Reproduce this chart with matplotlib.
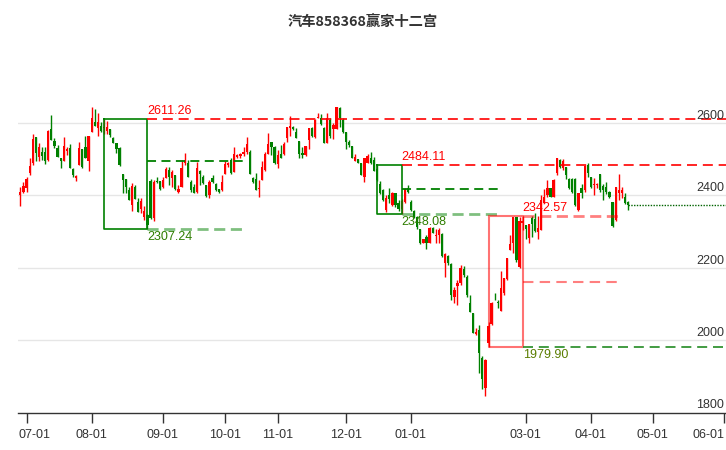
import matplotlib
matplotlib.use("Agg")
import matplotlib.pyplot as plt
import matplotlib.transforms as mtransforms
import pandas as pd

plt.rcParams['font.family'] = ['Liberation Sans', 'Noto Sans CJK SC', 'DejaVu Sans']

title = "汽车858368赢家十二宫"

# ---- OHLC data ----
opens = [2400, 2411, 2420, 2461, 2489, 2561, 2507, 2521, 2521, 2498,
         2583, 2552, 2530, 2503, 2494, 2524, 2530, 2473, 2449, 2484,
         2528, 2533, 2494, 2576, 2604, 2586, 2592, 2586, 2579, 2583,
         2558, 2544, 2530, 2459, 2446, 2415, 2374, 2423, 2383, 2362,
         2340, 2345, 2440, 2338, 2441, 2440, 2424, 2447, 2470, 2447,
         2457, 2411, 2424, 2491, 2491, 2438, 2424, 2411, 2468, 2452,
         2429, 2401, 2447, 2432, 2417, 2415, 2459, 2484, 2498, 2466,
         2507, 2509, 2516, 2521, 2519, 2447, 2445, 2417, 2443, 2470,
         2515, 2547, 2535, 2487, 2515, 2515, 2558, 2586, 2590, 2576,
         2551, 2518, 2512, 2553, 2586, 2561, 2613, 2613, 2586, 2546,
         2610, 2583, 2583, 2641, 2610, 2576, 2549, 2537, 2496, 2500,
         2489, 2450, 2489, 2505, 2498, 2472, 2432, 2415, 2360, 2401,
         2374, 2406, 2380, 2364, 2383, 2422, 2383, 2358, 2340, 2306,
         2270, 2286, 2268, 2309, 2287, 2291, 2294, 2214, 2233, 2211,
         2118, 2150, 2157, 2196, 2175, 2102, 2074, 2017, 2028, 1950,
         1867, 1992, 2046, 2120, 2106, 2081, 2131, 2168, 2249, 2268,
         2341, 2203, 2325, 2318, 2282, 2337, 2334, 2300, 2304, 2380,
         2401, 2420, 2397, 2461, 2498, 2475, 2478, 2445, 2445, 2445,
         2360, 2420, 2415, 2484, 2450, 2428, 2428, 2459, 2426, 2424,
         2410, 2383, 2332, 2408, 2406, 2397, 2383]
highs = [2423, 2438, 2450, 2503, 2569, 2561, 2544, 2535, 2535, 2581,
         2622, 2558, 2540, 2503, 2561, 2535, 2542, 2475, 2457, 2549,
         2528, 2564, 2564, 2644, 2638, 2629, 2604, 2611.26, 2605, 2583,
         2562, 2546, 2533, 2459, 2446, 2424, 2434, 2429, 2392, 2392,
         2370, 2348, 2445, 2442, 2452, 2441, 2452, 2480, 2480, 2470,
         2457, 2429, 2498, 2518, 2498, 2443, 2431, 2493, 2470, 2456,
         2429, 2443, 2456, 2434, 2418, 2456, 2494, 2492, 2503, 2533,
         2515, 2518, 2533, 2561, 2525, 2452, 2462, 2443, 2494, 2521,
         2572, 2549, 2537, 2526, 2540, 2549, 2590, 2620, 2592, 2586,
         2551, 2535, 2537, 2586, 2590, 2611, 2629, 2625, 2590, 2627,
         2613, 2600, 2646, 2644, 2613, 2576, 2553, 2537, 2514, 2500,
         2489, 2503, 2516, 2521, 2507, 2484.11, 2440, 2418, 2401, 2420,
         2410, 2408, 2387, 2390, 2420, 2429, 2388, 2360, 2342, 2306,
         2281, 2290, 2314, 2314, 2306, 2309, 2296, 2242, 2235, 2213,
         2148, 2166, 2208, 2205, 2180, 2125, 2076, 2033, 2042, 1955,
         1947, 2050, 2106, 2130, 2110, 2190, 2171, 2226, 2290, 2341,
         2341, 2340, 2342.57, 2318, 2321, 2343, 2352, 2343, 2401, 2417,
         2443, 2420, 2445, 2503, 2500, 2500, 2480, 2447, 2447, 2447,
         2408, 2433, 2484, 2490, 2452, 2447, 2434, 2460, 2433, 2438,
         2412, 2383, 2424, 2459, 2424, 2406, 2385]
lows = [2371, 2408, 2411, 2458, 2484, 2494, 2494, 2498, 2486, 2494,
        2553, 2530, 2507, 2477, 2494, 2512, 2477, 2452, 2440, 2484,
        2475, 2503, 2469, 2576, 2592, 2565, 2576, 2570, 2570, 2563,
        2544, 2518, 2482, 2406, 2408, 2388, 2358, 2389, 2355, 2351,
        2332, 2307.24, 2335, 2330, 2434, 2415, 2420, 2447, 2429, 2424,
        2415, 2406, 2424, 2484, 2452, 2410, 2406, 2408, 2429, 2432,
        2395, 2392, 2435, 2413, 2406, 2413, 2459, 2480, 2459, 2466,
        2503, 2505, 2509, 2516, 2459, 2435, 2415, 2397, 2443, 2468,
        2515, 2512, 2487, 2475, 2503, 2512, 2549, 2565, 2580, 2558,
        2503, 2505, 2509, 2528, 2563, 2558, 2613, 2595, 2546, 2546,
        2560, 2555, 2583, 2590, 2574, 2528, 2535, 2503, 2496, 2489,
        2457, 2436, 2489, 2487, 2469, 2440, 2404, 2385, 2353, 2378,
        2370, 2367, 2358, 2348.08, 2380, 2406, 2358, 2337, 2306, 2266,
        2268, 2251, 2268, 2295, 2268, 2268, 2231, 2176, 2208, 2111,
        2104, 2097, 2152, 2175, 2118, 2079, 2019, 2014, 1910, 1864,
        1845, 1979.90, 2042, 2110, 2090, 2081, 2125, 2166, 2249, 2240,
        2217, 2200, 2305, 2281, 2268, 2286, 2300, 2281, 2304, 2378,
        2397, 2397, 2397, 2458, 2476, 2470, 2445, 2418, 2408, 2372,
        2358, 2392, 2411, 2452, 2420, 2401, 2420, 2410, 2388, 2404,
        2392, 2313, 2330, 2387, 2392, 2376, 2360]
closes = [2411, 2427, 2445, 2482, 2555, 2517, 2535, 2509, 2494, 2579,
          2553, 2537, 2507, 2495, 2537, 2528, 2477, 2457, 2453, 2530,
          2480, 2503, 2564, 2613, 2592, 2604, 2579, 2588, 2590, 2567,
          2546, 2528, 2484, 2443, 2423, 2388, 2426, 2389, 2355, 2385,
          2356, 2318, 2338, 2437, 2438, 2417, 2443, 2472, 2452, 2466,
          2417, 2418, 2475, 2498, 2452, 2415, 2408, 2477, 2459, 2434,
          2399, 2438, 2438, 2415, 2410, 2438, 2487, 2489, 2461, 2515,
          2512, 2515, 2521, 2541, 2459, 2438, 2415, 2422, 2480, 2515,
          2542, 2533, 2489, 2512, 2505, 2542, 2590, 2592, 2583, 2558,
          2515, 2512, 2537, 2586, 2565, 2609, 2616, 2598, 2546, 2613,
          2564, 2595, 2644, 2613, 2576, 2549, 2540, 2503, 2507, 2489,
          2457, 2503, 2509, 2489, 2469, 2443, 2406, 2387, 2392, 2389,
          2406, 2374, 2364, 2386, 2417, 2411, 2360, 2340, 2312, 2268,
          2279, 2270, 2309, 2297, 2290, 2304, 2233, 2238, 2212, 2125,
          2139, 2159, 2199, 2180, 2125, 2079, 2021, 2023, 1964, 1892,
          1945, 2040, 2104, 2118, 2102, 2143, 2171, 2226, 2266, 2341,
          2222, 2330, 2330, 2306, 2321, 2321, 2303, 2309, 2387, 2397,
          2422, 2397, 2443, 2503, 2478, 2495, 2457, 2420, 2411, 2374,
          2406, 2408, 2481, 2461, 2424, 2431, 2431, 2415, 2415, 2410,
          2397, 2315, 2424, 2415, 2415, 2380, 2373]

# ---- "winner" boxes: (start idx, end idx, top, bottom, middle level) ----
box_start = [27, 115, 151]
box_end = [41, 123, 162]
box_top = [2611.26, 2484.11, 2342.57]
box_bottom = [2307.24, 2348.08, 1979.90]
box_mid = [2495.0, 2418.0, 2161.24]
box_kind = ['green', 'green', 'red']

# ---- calendar / axis labels ----
holidays = pd.to_datetime(['2023-09-29', '2023-10-02', '2023-10-03', '2023-10-04',
                           '2023-10-05', '2023-10-06', '2024-01-01', '2024-02-09',
                           '2024-02-12', '2024-02-13', '2024-02-14', '2024-02-15',
                           '2024-02-16', '2024-04-04', '2024-04-05'])
trade_days = [d for d in pd.bdate_range('2023-06-29', '2024-04-19') if d not in holidays]
future_days = list(pd.bdate_range('2024-04-22', '2024-06-07'))
all_days = trade_days + future_days
tick_months = [(2023, 7), (2023, 8), (2023, 9), (2023, 10), (2023, 11), (2023, 12),
               (2024, 1), (2024, 3), (2024, 4), (2024, 5), (2024, 6)]
tick_labels = ['07-01', '08-01', '09-01', '10-01', '11-01', '12-01',
               '01-01', '03-01', '04-01', '05-01', '06-01']
y_ticks = [1800, 2000, 2200, 2400, 2600]

RED = '#ff0000'
GREEN = '#008000'

fig = plt.figure(figsize=(7.26, 4.5), dpi=100)
ax = fig.add_axes([18 / 726, 37.5 / 450, 708 / 726, 361.7 / 450])
ax.set_ylim(1800, 2800)
ax.set_xlim(-0.75, 227.6)

# grid
for v in y_ticks[1:]:
    ax.axhline(v, color='#e6e6e6', lw=1, zorder=0)

# candles
n = len(opens)
xs = list(range(n))
up_x, up_b, up_h, dn_x, dn_b, dn_h = [], [], [], [], [], []
for i in xs:
    o, h, l, c = opens[i], highs[i], lows[i], closes[i]
    col = RED if c >= o else GREEN
    ax.vlines(i, l, h, color=col, lw=1, zorder=2)
    body = max(abs(c - o), 2.0)
    if c >= o:
        up_x.append(i); up_b.append(min(o, c)); up_h.append(body)
    else:
        dn_x.append(i); dn_b.append(min(o, c)); dn_h.append(body)
ax.bar(up_x, up_h, bottom=up_b, width=0.72, color=RED, lw=0, zorder=3)
ax.bar(dn_x, dn_h, bottom=dn_b, width=0.72, color=GREEN, lw=0, zorder=3)

# boxes and levels
xmax = ax.get_xlim()[1]
ext = 32
for s, e, top, bot, mid, kind in zip(box_start, box_end, box_top, box_bottom, box_mid, box_kind):
    if kind == 'green':
        ax.plot([s, e, e, s, s], [top, top, bot, bot, top], color=GREEN, lw=1.2, zorder=4)
        ax.plot([e, xmax], [top, top], color=RED, lw=1.2, dashes=(6, 3.5), zorder=4)
        ax.plot([e, e + ext], [bot, bot], color=GREEN, alpha=0.5, lw=2, dashes=(4, 2), zorder=4)
        ax.plot([e, e + ext], [mid, mid], color=GREEN, lw=1.3, dashes=(5, 3), zorder=4)
        top_col, bot_col = RED, '#2e7d00'
    else:
        ax.plot([s, e, e, s, s], [top, top, bot, bot, top], color=RED, alpha=0.55, lw=1.5, zorder=4)
        ax.plot([e, e + ext], [top, top], color=RED, alpha=0.5, lw=2, dashes=(4, 2), zorder=4)
        ax.plot([e, e + ext], [mid, mid], color=RED, alpha=0.5, lw=1.5, dashes=(5, 3), zorder=4)
        ax.plot([e, xmax], [bot, bot], color='#228B22', lw=1.2, dashes=(6, 3.5), zorder=4)
        top_col, bot_col = RED, '#5a7d00'
    up = mtransforms.offset_copy(ax.transData, fig=fig, x=0, y=2, units='dots')
    dn = mtransforms.offset_copy(ax.transData, fig=fig, x=0, y=-2, units='dots')
    ax.text(e, top, f"{top:.2f}", color=top_col, fontsize=9, ha='left', va='bottom',
            transform=up, zorder=5)
    ax.text(e, bot, f"{bot:.2f}", color=bot_col, fontsize=9, ha='left', va='top',
            transform=dn, zorder=5)

# last close dotted line
ax.plot([n - 1, xmax], [closes[-1], closes[-1]], color='#006400', lw=1, ls=(0, (1, 1)), zorder=4)

# right side value labels
lab_tr = mtransforms.offset_copy(mtransforms.blended_transform_factory(ax.transAxes, ax.transData),
                                 fig=fig, x=-2, y=1, units='dots')
for v in y_ticks:
    ax.text(1.0, v, str(v), transform=lab_tr, ha='right', va='bottom', fontsize=9,
            color='#333333', zorder=6)

# x axis
tick_pos = []
for (yy, mm) in tick_months:
    for k, d in enumerate(all_days):
        if d.year == yy and d.month == mm:
            tick_pos.append(k)
            break
ax.set_xticks(tick_pos)
ax.set_xticklabels([])
ax.tick_params(axis='x', length=7, width=1, color='#333333')
xl_tr = mtransforms.offset_copy(mtransforms.blended_transform_factory(ax.transData, ax.transAxes),
                                fig=fig, x=0, y=-17, units='dots')
xl_tr_first = mtransforms.offset_copy(mtransforms.blended_transform_factory(ax.transData, ax.transAxes),
                                      fig=fig, x=-8, y=-17, units='dots')
for k, (p, lbl) in enumerate(zip(tick_pos, tick_labels)):
    if k == 0:
        ax.text(p, 0, lbl, transform=xl_tr_first, ha='left', va='top', fontsize=9, color='#333333')
    elif k == len(tick_pos) - 1:
        ax.text(p, 0, lbl, transform=xl_tr, ha='right', va='top', fontsize=9, color='#333333')
    else:
        ax.text(p, 0, lbl, transform=xl_tr, ha='center', va='top', fontsize=9, color='#333333')
ax.set_yticks([])
for sp in ['top', 'left', 'right']:
    ax.spines[sp].set_visible(False)
ax.spines['bottom'].set_color('#333333')
ax.spines['bottom'].set_linewidth(1)

fig.text(0.5, 1 - 22 / 450, title, ha='center', va='center', fontsize=10.3,
         fontweight='bold', color='#333333', family=['Noto Sans CJK SC', 'DejaVu Sans'])

fig.savefig('out.png', dpi=100)
